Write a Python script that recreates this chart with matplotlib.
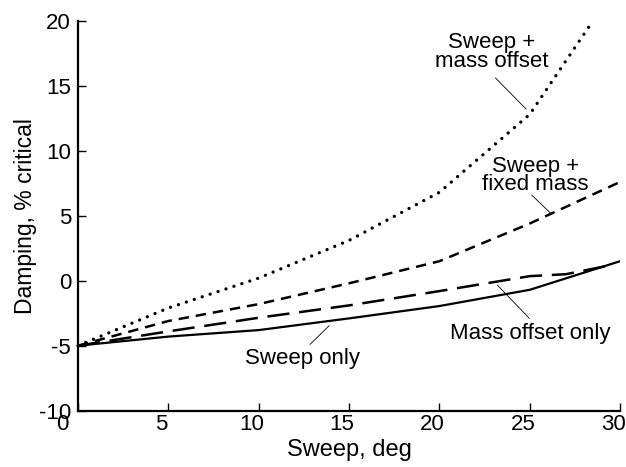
import matplotlib
matplotlib.use("Agg")
import matplotlib.pyplot as plt
import matplotlib.transforms as mtransforms

plt.rcParams['font.family'] = ['Liberation Sans', 'DejaVu Sans']
plt.rcParams['lines.scale_dashes'] = False
plt.rcParams['axes.unicode_minus'] = False

# damping vs sweep angle, four configurations
sweep_only_x = [0, 5, 10, 15, 20, 25, 30]
sweep_only_y = [-5.0, -4.3, -3.8, -2.9, -1.95, -0.7, 1.5]

mass_offset_x = [0, 5, 10, 15, 20, 25, 27, 29.5]
mass_offset_y = [-5.0, -3.9, -2.85, -1.9, -0.8, 0.35, 0.5, 1.2]

fixed_mass_x = [0, 5, 10, 15, 20, 25, 30]
fixed_mass_y = [-5.0, -3.1, -1.8, -0.2, 1.5, 4.4, 7.6]

sweep_offset_x = [0, 5, 10, 15, 20, 25, 28.5]
sweep_offset_y = [-5.0, -2.1, 0.2, 3.1, 6.8, 12.8, 20.0]

xticks = [0, 5, 10, 15, 20, 25, 30]
yticks = [-10, -5, 0, 5, 10, 15, 20]

fig = plt.figure(figsize=(6.26, 4.67), dpi=100)
ax = fig.add_axes([0.1246, 0.1206, 0.866, 0.835])

ax.plot(sweep_only_x, sweep_only_y, color='black', lw=1.6, solid_joinstyle='round')
ax.plot(mass_offset_x, mass_offset_y, color='black', lw=1.8, linestyle=(0, (16, 7)))
ax.plot(fixed_mass_x, fixed_mass_y, color='black', lw=1.8, linestyle=(0, (7.5, 5)))
ax.plot(sweep_offset_x, sweep_offset_y, color='black', lw=2.4, linestyle=(0, (0.01, 6)),
        dash_capstyle='round', clip_on=False)

ax.set_xlim(0, 30)
ax.set_ylim(-10, 20)
ax.set_xticks(xticks)
ax.set_yticks(yticks)
ax.spines['top'].set_visible(False)
ax.spines['right'].set_visible(False)
for s in ('left', 'bottom'):
    ax.spines[s].set_linewidth(1.6)
ax.tick_params(direction='in', length=6, width=1.0, labelsize=16)
ax.tick_params(axis='y', pad=5)
ax.tick_params(axis='x', pad=2.5)

# tick labels sit slightly left of their ticks
for i, lbl in enumerate(ax.get_xticklabels()):
    dx = -16 if i == 0 else -7
    lbl.set_transform(lbl.get_transform() + mtransforms.ScaledTranslation(dx / 100, 0, fig.dpi_scale_trans))

ax.set_xlabel('Sweep, deg', fontsize=17, labelpad=3)
ax.set_ylabel('Damping, % critical', fontsize=16.5, labelpad=1)

arrow = dict(arrowstyle='-', color='black', lw=0.6, shrinkA=0, shrinkB=0)
txt = dict(fontsize=16, ha='center', va='center', linespacing=0.85)
ax.annotate('Sweep +\nmass offset', xy=(24.8, 13.2), xytext=(22.9, 17.6), **txt)
ax.annotate('', xy=(24.8, 13.2), xytext=(23.1, 15.6), arrowprops=arrow)
ax.annotate('Sweep +\nfixed mass', xy=(26.15, 5.2), xytext=(25.3, 8.1), **txt)
ax.annotate('', xy=(26.15, 5.2), xytext=(25.1, 6.6), arrowprops=arrow)
ax.annotate('Mass offset only', xy=(23.2, -0.33), xytext=(25.0, -4.1), **txt)
ax.annotate('', xy=(23.2, -0.33), xytext=(24.98, -2.9), arrowprops=arrow)
ax.annotate('Sweep only', xy=(13.9, -3.46), xytext=(12.45, -5.95), **txt)
ax.annotate('', xy=(13.9, -3.46), xytext=(12.84, -4.9), arrowprops=arrow)

fig.savefig('out.png', dpi=100)
